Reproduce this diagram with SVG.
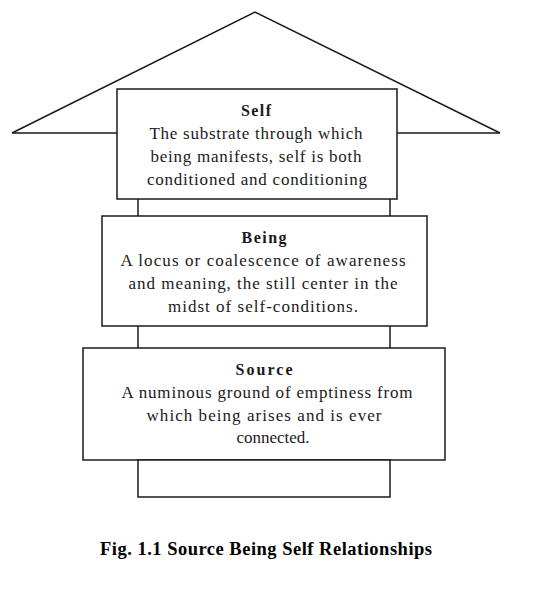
<svg xmlns="http://www.w3.org/2000/svg" width="539" height="591" viewBox="0 0 539 591">
<style>
.ln{fill:none;stroke:#1a1a1a;stroke-width:1.5}
.bx{fill:#fff;stroke:#1a1a1a;stroke-width:1.5}
text{font-family:"Liberation Serif","Times New Roman",serif;font-size:17px;fill:#1a1a1a;text-anchor:middle}
.t{font-weight:bold;font-size:16px}
.cap{font-weight:bold;font-size:18.5px;fill:#000}
</style>
<rect width="539" height="591" fill="#fff"/>
<g id="connectors">
<polyline class="ln" points="117,133 12,133 255,12 500,133 397,133"/>
<line class="ln" x1="138" y1="199" x2="138" y2="216"/>
<line class="ln" x1="390" y1="199" x2="390" y2="216"/>
<line class="ln" x1="138" y1="326" x2="138" y2="348"/>
<line class="ln" x1="390" y1="326" x2="390" y2="348"/>
</g>
<g id="self">
<rect class="bx" x="117" y="89" width="280" height="110"/>
<text class="t" x="256" y="116" textLength="30" lengthAdjust="spacing">Self</text>
<text x="256" y="139" textLength="213" lengthAdjust="spacing">The substrate through which</text>
<text x="256" y="162" textLength="211" lengthAdjust="spacing">being manifests, self is both</text>
<text x="257" y="185" textLength="220" lengthAdjust="spacing">conditioned and conditioning</text>
</g>
<g id="being">
<rect class="bx" x="102" y="216" width="325" height="110"/>
<text class="t" x="264" y="243" textLength="45" lengthAdjust="spacing">Being</text>
<text x="263" y="266" textLength="285" lengthAdjust="spacing">A locus or coalescence of awareness</text>
<text x="263" y="289" textLength="269" lengthAdjust="spacing">and meaning, the still center in the</text>
<text x="263" y="312" textLength="190" lengthAdjust="spacing">midst of self-conditions.</text>
</g>
<g id="source">
<rect class="bx" x="83" y="348" width="362" height="112"/>
<text class="t" x="264" y="375" textLength="57" lengthAdjust="spacing">Source</text>
<text x="267" y="398" textLength="291" lengthAdjust="spacing">A numinous ground of emptiness from</text>
<text x="264" y="421" textLength="235" lengthAdjust="spacing">which being arises and is ever</text>
<text x="273" y="443">connected.</text>
</g>
<g id="base">
<rect class="bx" x="138" y="460" width="252" height="37"/>
</g>
<text class="cap" x="266" y="555" textLength="332" lengthAdjust="spacing">Fig. 1.1 Source Being Self Relationships</text>
</svg>
